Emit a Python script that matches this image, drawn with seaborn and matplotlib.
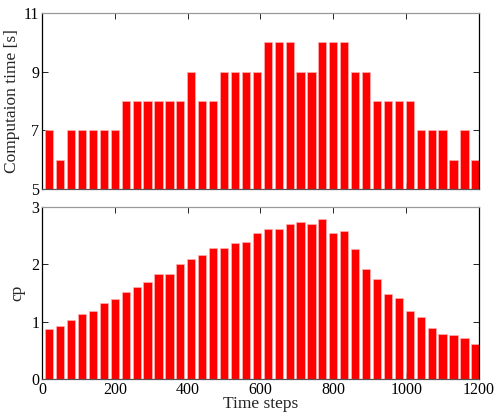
import numpy as np
import pandas as pd
import seaborn as sns
import matplotlib.pyplot as plt

# time steps (bar centres)
steps = list(range(20, 1200, 30))

comp_time = [7, 6, 7, 7, 7, 7, 7, 8, 8, 8, 8, 8, 8, 9, 8, 8, 9, 9, 9, 9,
             10, 10, 10, 9, 9, 10, 10, 10, 9, 9, 8, 8, 8, 8, 7, 7, 7, 6, 7, 6]

cp = [0.87, 0.93, 1.03, 1.14, 1.18, 1.32, 1.39, 1.52, 1.60, 1.69,
      1.83, 1.83, 2.00, 2.10, 2.16, 2.29, 2.28, 2.37, 2.39, 2.54,
      2.62, 2.61, 2.71, 2.74, 2.71, 2.79, 2.55, 2.59, 2.26, 1.91,
      1.74, 1.49, 1.42, 1.19, 1.09, 0.89, 0.78, 0.77, 0.71, 0.61]

df = pd.DataFrame({"step": steps, "time": comp_time, "cp": cp})

sns.set_style("white")
plt.rcParams['font.family'] = ['Liberation Serif', 'DejaVu Serif']
plt.rcParams['xtick.direction'] = 'in'
plt.rcParams['ytick.direction'] = 'in'

fig = plt.figure(figsize=(4.98, 4.17), dpi=100)
ax1 = fig.add_axes([0.0843, 0.5468, 0.8775, 0.422])
ax2 = fig.add_axes([0.0843, 0.0911, 0.8775, 0.4125])

bar_kw = dict(color='#ff0000', edgecolor='#ffb0b0', linewidth=0.5,
              width=0.75, native_scale=True, saturation=1)

sns.barplot(data=df, x="step", y="time", ax=ax1, **bar_kw)
sns.barplot(data=df, x="step", y="cp", ax=ax2, **bar_kw)

for ax in (ax1, ax2):
    ax.set_xlim(0, 1200)
    ax.set_xticks(range(0, 1201, 200))
    ax.tick_params(labelsize=11.5, length=4, width=0.6, colors='black',
                   top=True, right=True, bottom=True, left=True, pad=2)
    for s in ax.spines.values():
        s.set_visible(True)
        s.set_linewidth(0.9)
    ax.spines['left'].set_color('black')
    ax.spines['right'].set_color('black')
    ax.spines['top'].set_color('#999999')
    ax.spines['bottom'].set_color('#555555')

ax1.set_ylim(5, 11)
ax1.set_yticks([5, 7, 9, 11])
ax1.set_xticklabels([])
ax1.set_xlabel('')
ax1.set_ylabel('Computaion time [s]', fontsize=12.5, labelpad=3)

ax2.set_ylim(0, 3)
ax2.set_yticks([0, 1, 2, 3])
ax2.set_xlabel('Time steps', fontsize=12.5, labelpad=-1)
ax2.set_ylabel('cp', fontsize=12.5, labelpad=4)

fig.savefig("out.png", dpi=100)
